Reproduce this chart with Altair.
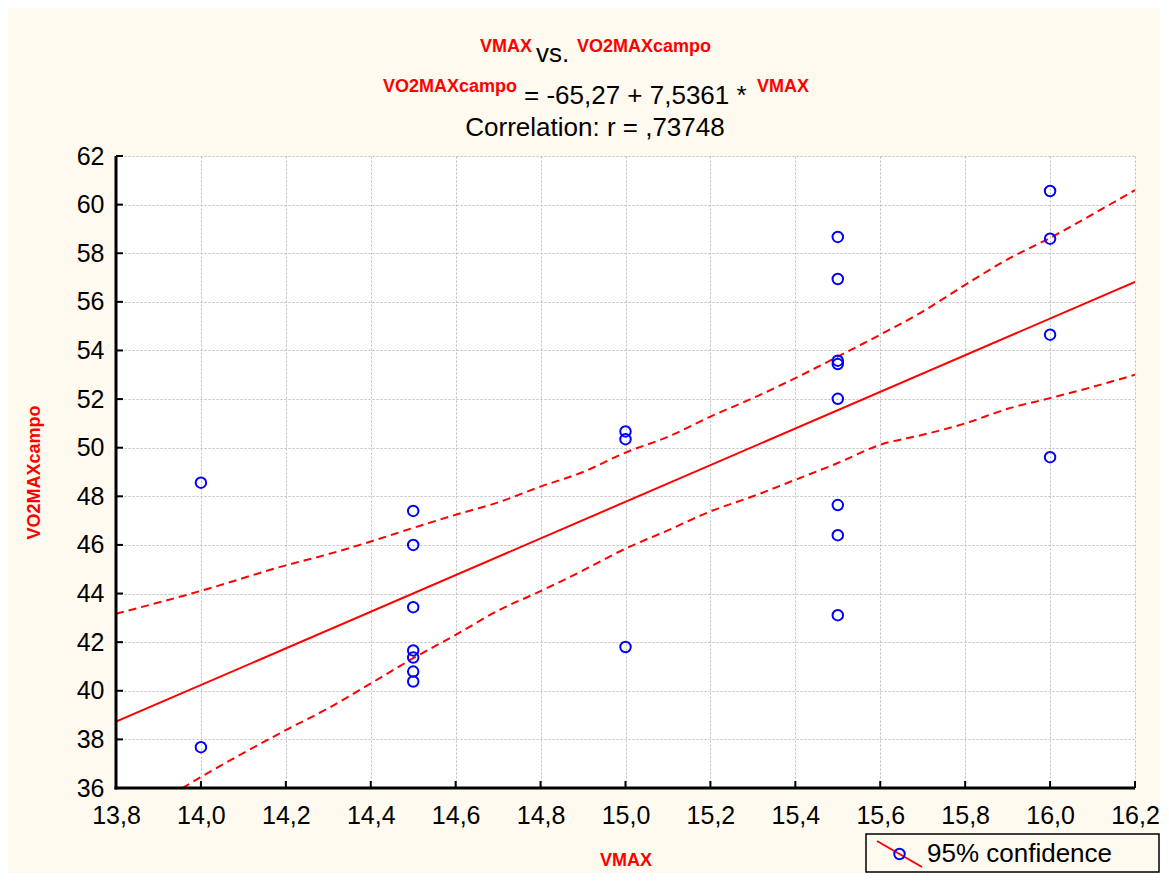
import altair as alt
import pandas as pd

# ---------------- data ----------------
vmax = [14.0, 14.0,
        14.5, 14.5, 14.5, 14.5, 14.5, 14.5, 14.5,
        15.0, 15.0, 15.0,
        15.5, 15.5, 15.5, 15.5, 15.5, 15.5, 15.5, 15.5,
        16.0, 16.0, 16.0, 16.0]
vo2max_campo = [48.56, 37.68,
                47.40, 46.00, 43.44, 41.66, 41.37, 40.79, 40.38,
                50.67, 50.35, 41.80,
                58.67, 56.94, 53.58, 53.44, 52.01, 47.64, 46.40, 43.11,
                60.56, 58.60, 54.65, 49.61]

fit_x = [13.8, 16.2]
fit_y = [38.73, 56.82]          # VO2MAXcampo = -65,27 + 7,5361 * VMAX

band_x = [13.8, 14.0, 14.2, 14.3, 14.4, 14.5, 14.6, 14.7, 14.8, 14.9, 15.0, 15.1,
          15.2, 15.3, 15.4, 15.5, 15.6, 15.7, 15.8, 15.9, 16.0, 16.1, 16.2]
band_upper = [43.17, 44.11, 45.16, 45.62, 46.14, 46.70, 47.24, 47.75, 48.40, 49.00, 49.80, 50.45,
              51.28, 52.04, 52.86, 53.75, 54.65, 55.60, 56.70, 57.75, 58.63, 59.60, 60.60]
band_lower = [34.30, 36.45, 38.38, 39.28, 40.30, 41.34, 42.30, 43.30, 44.10, 44.95, 45.85, 46.60,
              47.38, 48.00, 48.68, 49.37, 50.12, 50.53, 51.00, 51.60, 52.04, 52.50, 53.00]

x_ticks = [13.8, 14.0, 14.2, 14.4, 14.6, 14.8, 15.0, 15.2, 15.4, 15.6, 15.8, 16.0, 16.2]
y_ticks = [36, 38, 40, 42, 44, 46, 48, 50, 52, 54, 56, 58, 60, 62]

title_vs = "vs."
title_eq = "= -65,27 + 7,5361 *"
title_corr = "Correlation: r = ,73748"
legend_label = "95% confidence"
x_name = "VMAX"
y_name = "VO2MAXcampo"

# ---------------- styling ----------------
FONT = "Liberation Sans"
RED = "#FF0000"
BLUE = "#0000FF"
BG = "#FFFAF0"
W, H = 1019, 632

points = pd.DataFrame({"VMAX": vmax, "VO2": vo2max_campo})
fit = pd.DataFrame({"VMAX": fit_x, "VO2": fit_y})
n = len(band_x)
bands = pd.DataFrame({"VMAX": band_x + band_x,
                      "VO2": band_upper + band_lower,
                      "side": ["upper"] * n + ["lower"] * n})
xt = pd.DataFrame({"VMAX": x_ticks})
yt = pd.DataFrame({"VO2": y_ticks})
one = pd.DataFrame({"a": [0]})

x_scale = alt.Scale(domain=[13.8, 16.2], nice=False, zero=False)
y_scale = alt.Scale(domain=[36, 62], nice=False, zero=False)

x_axis = alt.Axis(values=x_ticks, labelExpr="replace(format(datum.value, '.1f'), '.', ',')",
                  title=x_name, grid=True, gridDash=[2, 2], gridColor="#bdbdbd", gridWidth=1,
                  ticks=False, domain=False,
                  labelFont=FONT, labelFontSize=25, labelColor="black", labelPadding=15,
                  labelFlush=False, labelOverlap=False,
                  titleFont=FONT, titleColor=RED, titleFontWeight="bold", titleFontSize=18,
                  titleX=W / 2, titleY=77, titleBaseline="alphabetic", titleAlign="center")
y_axis = alt.Axis(values=y_ticks, format="d",
                  title=y_name, grid=True, gridDash=[2, 2], gridColor="#bdbdbd", gridWidth=1,
                  ticks=False, domain=False,
                  labelFont=FONT, labelFontSize=25, labelColor="black", labelPadding=12,
                  labelFlush=False, labelOverlap=False,
                  titleFont=FONT, titleColor=RED, titleFontWeight="bold", titleFontSize=18,
                  titleX=-77, titleY=H / 2, titleAngle=-90, titleBaseline="alphabetic",
                  titleAlign="center")

X = alt.X("VMAX:Q", scale=x_scale, axis=x_axis)
Y = alt.Y("VO2:Q", scale=y_scale, axis=y_axis)

band_lines = alt.Chart(bands).mark_line(color=RED, strokeWidth=2, strokeDash=[8, 5],
                                        clip=True, interpolate="monotone").encode(
    x=X, y=Y, detail="side:N")

fit_line = alt.Chart(fit).mark_line(color=RED, strokeWidth=2, clip=True).encode(x=X, y=Y)

pts = alt.Chart(points).mark_point(filled=False, color=BLUE, size=110, strokeWidth=2,
                                   opacity=1).encode(x=X, y=Y)

# inward tick marks and the black axis lines (left and bottom)
x_tick_marks = alt.Chart(xt).mark_tick(color="#000000", thickness=2, size=7,
                                       orient="vertical", opacity=1).encode(
    x=X, y=alt.value(H - 3.5))
y_tick_marks = alt.Chart(yt).mark_tick(color="#000000", thickness=2, size=7,
                                       orient="horizontal", opacity=1).encode(
    y=Y, x=alt.value(3.5))
left_line = alt.Chart(one).mark_rect(color="#000000", opacity=1).encode(
    x=alt.value(-1.5), x2=alt.value(1.5), y=alt.value(0), y2=alt.value(H + 1.5))
bottom_line = alt.Chart(one).mark_rect(color="#000000", opacity=1).encode(
    x=alt.value(-1.5), x2=alt.value(W), y=alt.value(H - 1.5), y2=alt.value(H + 1.5))


def txt(text, x, y, align, size, color="black", weight="normal", baseline="alphabetic"):
    return alt.Chart(one).mark_text(text=text, align=align, baseline=baseline, font=FONT,
                                    fontSize=size, color=color, fontWeight=weight).encode(
        x=alt.value(x), y=alt.value(y))


titles = [
    txt(x_name, 416, -104, "right", 18, RED, "bold"),
    txt(title_vs, 420, -94, "left", 26),
    txt(y_name, 461, -104, "left", 18, RED, "bold"),
    txt(y_name, 401, -64, "right", 18, RED, "bold"),
    txt(title_eq, 408, -52, "left", 26),
    txt(x_name, 641, -64, "left", 18, RED, "bold"),
    txt(title_corr, 479, -20, "center", 26),
]

leg_box = alt.Chart(one).mark_rect(fill=BG, stroke="black", strokeWidth=1.5).encode(
    x=alt.value(750), x2=alt.value(1043), y=alt.value(678), y2=alt.value(716))
leg_line = alt.Chart(one).mark_rule(color=RED, strokeWidth=2).encode(
    x=alt.value(761), x2=alt.value(806), y=alt.value(685), y2=alt.value(711))
leg_pt = alt.Chart(one).mark_point(shape="circle", filled=False, color=BLUE, size=110,
                                   strokeWidth=2, opacity=1).encode(
    x=alt.value(783.5), y=alt.value(698))
leg_txt = txt(legend_label, 811, 698, "left", 26, baseline="middle")

chart = alt.layer(
    band_lines, fit_line, pts, x_tick_marks, y_tick_marks, left_line, bottom_line,
    *titles, leg_box, leg_line, leg_pt, leg_txt
).properties(
    width=W, height=H,
    autosize=alt.AutoSizeParams(type="none"),
    padding={"left": 108, "top": 148, "right": 25, "bottom": 85},
    background=BG,
).configure_view(stroke=None, fill="white")

chart.save("out.html", embed_options={"renderer": "svg", "actions": False})
